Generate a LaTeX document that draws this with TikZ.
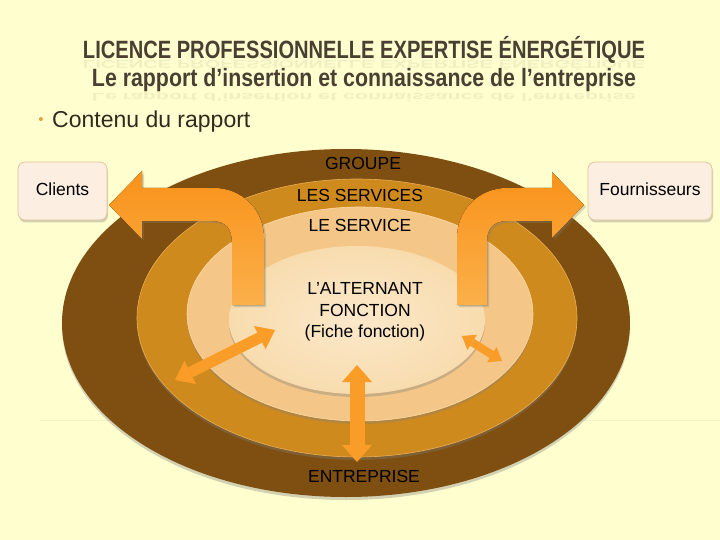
\documentclass[tikz,border=0pt]{standalone}
\usepackage{fontspec}
\setmainfont{Liberation Sans}
\usepackage{graphicx}
\usetikzlibrary{shadows,arrows.meta}
\definecolor{bgc}{HTML}{FFFECE}
\definecolor{bgline}{HTML}{F6F3C8}
\definecolor{ringA}{HTML}{7E4F10}
\definecolor{ringB}{HTML}{CF8A1E}
\definecolor{ringBrim}{HTML}{E9AE55}
\definecolor{ringC}{HTML}{F4C687}
\definecolor{ringCrim}{HTML}{FAD9A8}
\definecolor{ringD}{HTML}{F8DCAE}
\definecolor{ringDin}{HTML}{FBE8CA}
\definecolor{arrA}{HTML}{F8921A}
\definecolor{arrB}{HTML}{FBB04A}
\definecolor{arrC}{HTML}{F99C28}
\definecolor{boxfill}{HTML}{FCEEE1}
\definecolor{boxline}{HTML}{E2C59A}
\definecolor{titlec}{HTML}{4A3F33}
\definecolor{bulletc}{HTML}{E2A446}
\definecolor{bodyc}{HTML}{2E2A1E}
\tikzset{
  ringshadow/.style={drop shadow={opacity=0.35, shadow xshift=0pt, shadow yshift=-3pt}},
  lbl/.style={font=\fontsize{17.5}{21.5}\selectfont, text=black, inner sep=0pt},
  sidebox/.style={draw=boxline, line width=0.8pt, fill=boxfill, rounded corners=7pt,
    minimum height=58pt, inner sep=0pt, font=\fontsize{17.5}{21}\selectfont, text=black,
    drop shadow={opacity=0.35, shadow xshift=1pt, shadow yshift=-2.5pt}},
  bentarrow/.style={top color=arrA, bottom color=arrB,
    drop shadow={opacity=0.3, shadow xshift=2pt, shadow yshift=-2pt}},
  dblarrow/.style={draw=arrC, line width=#1, line cap=butt},
  titletext/.style={inner sep=0pt, text=titlec, anchor=base},
  reflecttext/.style={inner sep=0pt, text=titlec, anchor=base, opacity=0.08},
}
\begin{document}
\begin{tikzpicture}[x=1pt,y=-1pt]
\useasboundingbox (0,0) rectangle (720,540);
\fill[bgc] (0,0) rectangle (720,540);
\draw[bgline, line width=0.5pt] (40,420) -- (720,420);

% title
\node[titletext] (t1) at (364,59) {\resizebox{562pt}{\height}{\fontsize{25}{30}\selectfont\bfseries LICENCE PROFESSIONNELLE EXPERTISE ÉNERGÉTIQUE}};
\node[reflecttext] (t1r) at (364,60.5) {\scalebox{1}[-0.45]{\resizebox{562pt}{\height}{\fontsize{25}{30}\selectfont\bfseries LICENCE PROFESSIONNELLE EXPERTISE ÉNERGÉTIQUE}}};
\node[titletext] (t2) at (364,87) {\resizebox{544pt}{\height}{\fontsize{25}{30}\selectfont\bfseries Le rapport d’insertion et connaissance de l’entreprise}};
\node[reflecttext] (t2r) at (364,94) {\scalebox{1}[-0.45]{\resizebox{544pt}{\height}{\fontsize{25}{30}\selectfont\bfseries Le rapport d’insertion et connaissance de l’entreprise}}};

% bullet
\node[inner sep=0pt, text=bulletc, font=\fontsize{15}{18}\selectfont] (bul) at (41,121) {•};
\node[inner sep=0pt, anchor=base west, text=bodyc, font=\fontsize{23}{27}\selectfont] (cont) at (52,128) {Contenu du rapport};

% rings
\fill[ringA, ringshadow] (346,323) ellipse [x radius=284, y radius=174];
\filldraw[fill=ringB, draw=ringBrim, line width=0.6pt, ringshadow] (357,318) ellipse [x radius=220, y radius=139];
\filldraw[fill=ringC, draw=ringCrim, line width=0.6pt, ringshadow] (360,314) ellipse [x radius=173, y radius=107];
\shade[inner color=ringDin, outer color=ringD, ringshadow] (357,320) ellipse [x radius=128, y radius=74];

% labels
\node[lbl] (groupe) at (363,163) {GROUPE};
\node[lbl] (services) at (360,195) {LES SERVICES};
\node[lbl] (service) at (360,225) {LE SERVICE};
\node[lbl, align=center] (alt) at (365,312) {L’ALTERNANT\\FONCTION\\(Fiche fonction)};
\node[lbl] (entr) at (364,476) {ENTREPRISE};

% side boxes
\node[sidebox, minimum width=89pt] (clients) at (62.5,191) {\raisebox{3pt}{Clients}\hspace{6pt}};
\node[sidebox, minimum width=124pt] (fourn) at (650,191) {\raisebox{3pt}{Fournisseurs}\hspace{6pt}};

% bent arrows
\fill[bentarrow] (232,305) -- (232,243) .. controls (232,229) and (226,221) .. (212,221)
  -- (142,221) -- (142,239) -- (109,205) -- (142,171) -- (142,188) -- (214,188)
  .. controls (242,188) and (264,210) .. (264,238) -- (264,305) -- cycle;
\fill[bentarrow] (457,305) -- (457,238) .. controls (457,210) and (479,188) .. (507,188)
  -- (552,188) -- (552,172) -- (584,205) -- (552,238) -- (552,221) -- (507,221)
  .. controls (494,221) and (487,228) .. (487,241) -- (487,305) -- cycle;

% double arrows
\coordinate (vtop) at (357,365);
\coordinate (vbot) at (357,462);
\coordinate (ltipa) at (275,330);
\coordinate (ltipb) at (175,380);
\coordinate (rtipa) at (462,336);
\coordinate (rtipb) at (502,361);
\draw[dblarrow=15pt, {Triangle[length=17pt,width=30pt,line width=0pt]}-{Triangle[length=17pt,width=30pt,line width=0pt]}] (vtop) -- (vbot);
\draw[dblarrow=11pt, {Triangle[length=17pt,width=26pt,line width=0pt]}-{Triangle[length=17pt,width=26pt,line width=0pt]}] (ltipa) -- (ltipb);
\draw[dblarrow=8pt, {Triangle[length=12pt,width=18pt,line width=0pt]}-{Triangle[length=12pt,width=18pt,line width=0pt]}] (rtipa) -- (rtipb);
\end{tikzpicture}
\end{document}
